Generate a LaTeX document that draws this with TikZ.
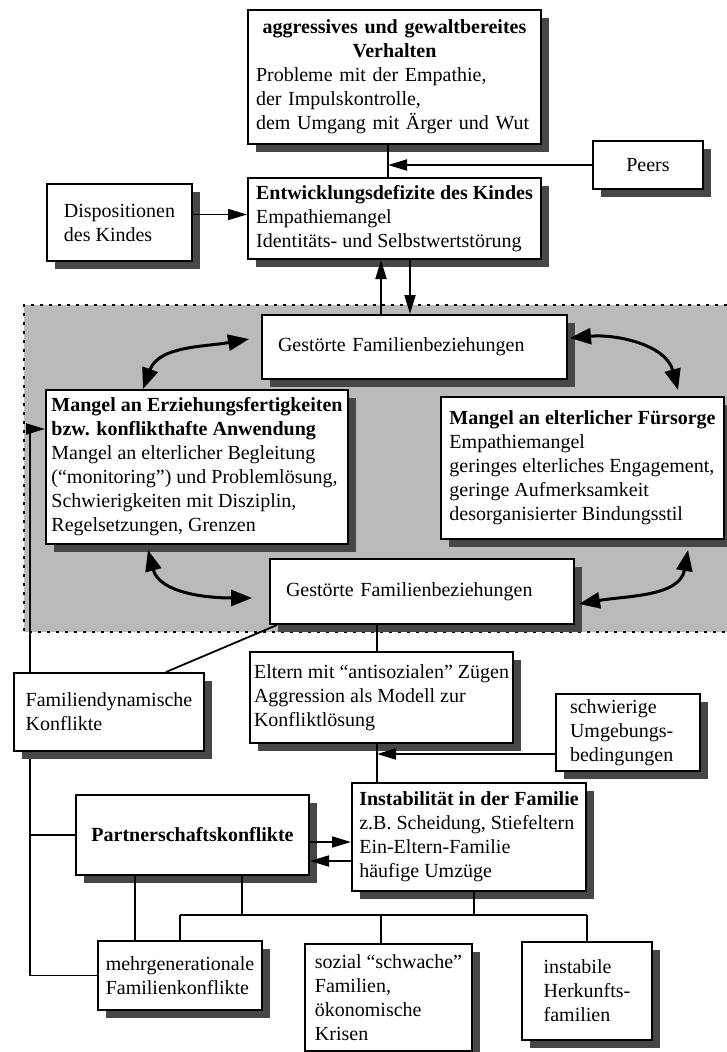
\documentclass[tikz,border=0pt]{standalone}
\usepackage{fontspec}
\setmainfont{Liberation Serif}
\usetikzlibrary{arrows.meta,shadows,calc}
\pgfdeclarelayer{shade}
\pgfdeclarelayer{lines}
\pgfsetlayers{shade,lines,main}
\begin{document}
\begin{tikzpicture}[x=1pt,y=-1pt,
  every node/.style={font=\fontsize{20}{24}\selectfont},
  box/.style={draw, fill=white, line width=2pt, anchor=north west, inner ysep=0pt, align=left,
     drop shadow={shadow xshift=8pt, shadow yshift=-8pt, fill=black!72, opacity=1}},
  conn/.style={line width=1.8pt},
  arr/.style={conn, -{Triangle[length=19pt,width=11pt]}},
  carr/.style={line width=3pt, {Triangle[length=21pt,width=16pt]}-{Triangle[length=21pt,width=16pt]}},
  shadefill/.style={fill=black!27},
  dotline/.style={line width=2.6pt, dash pattern=on 2.6pt off 6.4pt}
]
\useasboundingbox (0,0) rectangle (727,1052);

% shaded family region
\begin{pgfonlayer}{shade}
  \fill[shadefill] (24,305) rectangle (727,632);
  \draw[dotline] (727,305) -- (24,305) -- (24,632) -- (727,632);
\end{pgfonlayer}

% boxes
\node[box, minimum width=293pt, minimum height=134pt, text width=277pt, inner xsep=8pt] (agg) at (247,9)
  {{\centering\bfseries aggressives und gewaltbereites\\Verhalten\par}Probleme mit der Empathie,\\der Impulskontrolle,\\dem Umgang mit Ärger und Wut};
\node[box, minimum width=110pt, minimum height=48pt, align=center] (peers) at (592,140) {Peers};
\node[box, minimum width=145pt, minimum height=77pt] (disp) at (46,183) {Dispositionen\\des Kindes};
\node[box, minimum width=293pt, minimum height=81pt] (entw) at (247,177)
  {\textbf{Entwicklungsdefizite des Kindes}\\Empathiemangel\\Identitäts- und Selbstwertstörung};
\node[box, minimum height=64pt, text width=273pt, inner xsep=16pt] (gest1) at (261,314) {Gestörte Familienbeziehungen};
\node[box, minimum width=302pt, minimum height=154pt] (erz) at (45,389)
  {\textbf{Mangel an Erziehungsfertigkeiten}\\\textbf{bzw. konflikthafte Anwendung}\\Mangel an elterlicher Begleitung\\(“monitoring”) und Problemlösung,\\Schwierigkeiten mit Disziplin,\\Regelsetzungen, Grenzen};
\node[box, minimum width=283pt, minimum height=142pt] (fuer) at (440,396)
  {\textbf{Mangel an elterlicher Fürsorge}\\Empathiemangel\\geringes elterliches Engagement,\\geringe Aufmerksamkeit\\desorganisierter Bindungsstil};
\node[box, minimum height=65pt, text width=272pt, inner xsep=16pt] (gest2) at (269,558) {Gestörte Familienbeziehungen};
\node[box, minimum width=190pt, minimum height=78pt] (famdyn) at (13,672) {Familiendynamische\\Konflikte};
\node[box, minimum width=263pt, minimum height=91pt] (eltern) at (249,651)
  {Eltern mit “antisozialen” Zügen\\Aggression als Modell zur\\Konfliktlösung};
\node[box, minimum height=77pt, text width=116pt, inner xsep=14pt] (schw) at (555,693) {schwierige\\Umgebungs-\\bedingungen};
\node[box, minimum width=234pt, minimum height=108pt] (instab) at (351,782)
  {\textbf{Instabilität in der Familie}\\z.B. Scheidung, Stiefeltern\\Ein-Eltern-Familie\\häufige Umzüge};
\node[box, minimum width=233pt, minimum height=80pt, align=center] (partner) at (75,794) {\textbf{Partnerschaftskonflikte}};
\node[box, minimum width=164pt, minimum height=69pt] (mehrgen) at (97,940) {mehrgenerationale\\Familienkonflikte};
\node[box, minimum width=167pt, minimum height=107pt] (sozial) at (304,943) {sozial “schwache”\\Familien,\\ökonomische\\Krisen};
\node[box, minimum width=130pt, minimum height=98pt] (instabile) at (521,941) {instabile\\Herkunfts-\\familien};

% helper coordinates
\coordinate (j1) at ([xshift=-6.5pt]agg.south);
\coordinate (dispout) at ([yshift=8pt]disp.east);
\coordinate (upx) at ([xshift=-13.5pt]entw.south);
\coordinate (dnx) at ([xshift=15.5pt]entw.south);
\coordinate (g2x) at ([xshift=-45pt]gest2.south);
\coordinate (g2d) at ([xshift=8pt]gest2.south west);
\coordinate (fdn) at ([xshift=57pt]famdyn.north);
\coordinate (j2) at ([xshift=-4.5pt]eltern.south);
\coordinate (schwout) at ([yshift=-21.5pt]schw.west);
\coordinate (pa1) at ([yshift=-7pt]partner.east);
\coordinate (pa2) at ([yshift=-26pt]partner.east);
\coordinate (lx) at (30,0);
\coordinate (erzin) at ([yshift=38pt]erz.west);
\coordinate (pd1) at ([xshift=-57.5pt]partner.south);
\coordinate (pd2) at ([xshift=49.5pt]partner.south);
\coordinate (bus) at ([xshift=5pt,yshift=-23pt]instab.south);
\coordinate (sd) at ([xshift=-7.5pt]sozial.north);
\coordinate (c1a) at ([xshift=-54pt]erz.north);
\coordinate (c1b) at ([xshift=-12pt,yshift=8pt]gest1.west);
\coordinate (c2a) at ([xshift=2pt,yshift=9pt]gest1.east);
\coordinate (c2b) at ([xshift=95.5pt,yshift=6pt]fuer.north);
\coordinate (c3a) at ([xshift=-49pt,yshift=-5pt]erz.south);
\coordinate (c3b) at ([xshift=-17pt,yshift=-6.5pt]gest2.west);
\coordinate (c4a) at ([xshift=105.5pt,yshift=-10pt]fuer.south);
\coordinate (c4b) at ([xshift=4pt,yshift=-12.5pt]gest2.east);

% lines passing behind boxes
\begin{pgfonlayer}{lines}
  \draw[arr] (mehrgen.west) -| (erzin -| lx) -- (erzin);
  \draw[conn] (partner.west) -- (partner.west -| lx);
\end{pgfonlayer}

% connectors
\draw[conn] (j1) -- (j1 |- entw.north);
\draw[arr] (peers.west) -- (peers.west -| j1);
\draw[arr] (dispout) -- (dispout -| entw.west);
\draw[arr] (upx |- gest1.north) -- (upx);
\draw[arr] (dnx) -- (dnx |- gest1.north);

\draw[carr] (c1a) to[out=70,in=190] (c1b);
\draw[carr] (c2a) to[out=5,in=105] (c2b);
\draw[carr] (c3a) to[out=-75,in=180] (c3b);
\draw[carr] (c4a) to[out=-100,in=10] (c4b);

\draw[conn] (g2x) -- (g2x |- eltern.north);
\draw[conn] (g2d) -- (fdn);
\draw[conn] (j2) -- (j2 |- instab.north);
\draw[arr] (schwout) -- (schwout -| j2);
\draw[arr] (pa1) -- (pa1 -| instab.west);
\draw[arr] (pa2 -| instab.west) -- (pa2);
\draw[conn] (pd1) -- (pd1 |- mehrgen.north);
\draw[conn] (pd2) -- (pd2 |- bus);
\draw[conn] (instab.south -| bus) -- (bus);
\draw[conn] (mehrgen.north |- bus) -- (instabile.north |- bus);
\draw[conn] (mehrgen.north |- bus) -- (mehrgen.north);
\draw[conn] (sd |- bus) -- (sd);
\draw[conn] (instabile.north |- bus) -- (instabile.north);
\end{tikzpicture}
\end{document}
